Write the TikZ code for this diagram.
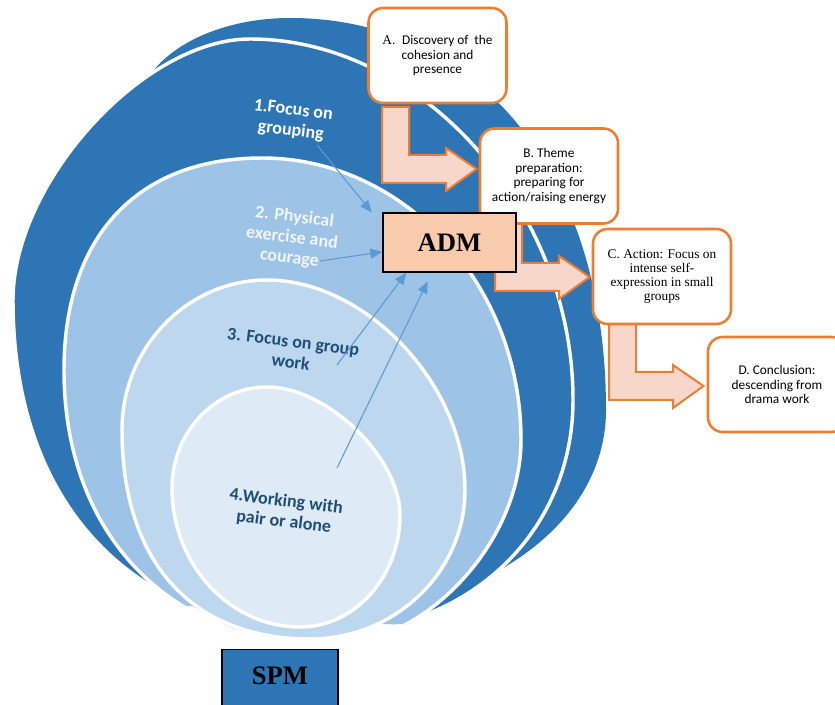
\documentclass[tikz,border=0pt]{standalone}
\usepackage{fontspec}
\setmainfont{Carlito}
\newfontfamily\timesfont{Liberation Serif}
\usetikzlibrary{arrows.meta}
\definecolor{ringdark}{HTML}{2E75B6}
\definecolor{ringmid}{HTML}{9DC3E6}
\definecolor{ringlight}{HTML}{BDD7EE}
\definecolor{ringpale}{HTML}{DEEBF7}
\definecolor{labelpale}{HTML}{F0F5FB}
\definecolor{navy}{HTML}{1F4E79}
\definecolor{boxorange}{HTML}{ED7D31}
\definecolor{peach}{HTML}{F8D7CB}
\definecolor{admfill}{HTML}{F8CBAD}
\definecolor{linkblue}{HTML}{5B9BD5}

\begin{document}
\begin{tikzpicture}[
    x=0.75pt, y=-0.75pt,
    ring/.style={draw=white, line width=2.6pt},
    ringlabel/.style={
        align=center,
        rotate=-7,
        inner sep=1pt,
        font=\bfseries\fontsize{13.5}{15.5}\selectfont,
    },
    stagebox/.style={
        draw=boxorange,
        line width=1.9pt,
        rounded corners=11pt,
        fill=white,
        minimum width=103.5pt,
        minimum height=71.25pt,
        inner sep=2pt,
        align=center,
        font=\fontsize{10}{11}\selectfont,
    },
    titlebox/.style={
        draw=black,
        line width=0.9pt,
        font=\timesfont\bfseries\fontsize{20}{24}\selectfont,
    },
    bentarrow/.style={draw=boxorange, line width=1.5pt, fill=peach},
    link/.style={
        draw=linkblue,
        line width=0.8pt,
        -{Triangle[length=9pt, width=7.5pt]},
    },
    pics/bend/.style={code={
        \path [bentarrow]
            (0, 0) -- (27, 0) -- (27, #1) -- (64, #1) -- (64, #1-7)
            -- (94.5, #1+14) -- (64, #1+36) -- (64, #1+28)
            -- (0, #1+28) -- cycle;
    }},
]
\useasboundingbox (0, 0) rectangle (835, 705);
\clip (0, 0) rectangle (835, 705);

% nested rings, back to front
\path [fill=ringdark]
    (150, 75) .. controls (175, 40) and (230, 18) .. (290, 18)
    .. controls (479.6, 18) and (606, 175) .. (606, 410)
    .. controls (606, 480) and (560, 545) .. (470, 585)
    -- (400, 450) -- (250, 200) -- cycle;
\begin{scope}
    \clip (0, 0) -- (835, 0) -- (835, 626) -- (412, 626) -- (370, 622)
        -- (310, 633) -- (233, 628) -- (187, 600) -- (172, 588)
        -- (160, 705) -- (0, 705) -- cycle;
    \path [ring, fill=ringdark]
        (13, 300) .. controls (13, 182.6) and (143.4, 39) .. (250, 39)
        .. controls (421.2, 39) and (573, 208.7) .. (573, 400)
        .. controls (573, 532.2) and (468.5, 632) .. (330, 632)
        .. controls (133.5, 632) and (13, 505.8) .. cycle;
\end{scope}
\begin{scope}
    \clip (0, 0) -- (835, 0) -- (835, 624) -- (375, 624) -- (310, 635)
        -- (235, 630) -- (192, 606) -- (0, 606) -- cycle;
    \path [ring, fill=ringmid]
        (64, 370) .. controls (64, 236.4) and (137.3, 158) .. (262, 158)
        .. controls (404.5, 158) and (521, 284.9) .. (521, 440)
        .. controls (521, 542.5) and (425.5, 645) .. (330, 645)
        .. controls (170.4, 645) and (64, 535) .. cycle;
\end{scope}
\path [ring, fill=ringlight]
    (122, 430) .. controls (122, 347.5) and (187.25, 280) .. (267, 280)
    .. controls (366, 280) and (465, 385) .. (465, 490)
    .. controls (465, 572) and (395.25, 639) .. (310, 639)
    .. controls (191.6, 639) and (122, 561.7) .. cycle;
\path [ring, fill=ringpale]
    (172, 488) .. controls (172, 432.4) and (214.75, 387) .. (267, 387)
    .. controls (326.85, 387) and (400, 457.4) .. (400, 515)
    .. controls (400, 576.6) and (355, 627) .. (300, 627)
    .. controls (229.6, 627) and (172, 564.45) .. cycle;

\node [ringlabel, text=white] (grouping) at (292, 121) {1.Focus on\\grouping};
\node [ringlabel, text=labelpale] (physical) at (292, 238) {2. Physical\\exercise and\\courage};
\node [ringlabel, text=navy] (groupwork) at (292, 352) {3. Focus on group\\work};
\node [ringlabel, text=navy] (pairwork) at (285, 512) {4.Working with\\pair or alone};

% stages
\pic at (382, 107) {bend=48};
\pic at (495, 224) {bend=39};
\pic at (609, 323) {bend=49};

\node [stagebox] (stageA) at (437.5, 55.5)
    {{\timesfont A.}\enspace Discovery of\ \ the\\cohesion and\\presence};
\node [stagebox] (stageB) at (549, 176)
    {B. Theme\\preparation:\\preparing for\\action/raising energy};
\node [stagebox, font=\timesfont\fontsize{10}{10.5}\selectfont] (stageC) at (662, 276.5)
    {C. Action: Focus on\\intense self-\\expression in small\\groups};
\node [stagebox] (stageD) at (777, 384.5)
    {D. Conclusion:\\descending from\\drama work};

\node [titlebox, fill=admfill, minimum width=99.75pt, minimum height=44.25pt]
    (adm) at (449.5, 242.5) {ADM};
\node [titlebox, fill=ringdark, anchor=north, minimum width=87pt, inner sep=0pt,
    text height=26pt, text depth=25pt] (spm) at (280, 649) {SPM};

% links into ADM
\coordinate (grouping-end) at (317, 145);
\coordinate (physical-end) at (320, 261);
\coordinate (groupwork-end) at (337, 365);
\coordinate (pairwork-end) at (337, 468);
\draw [link] (grouping-end) -- ([xshift=-8pt]adm.north west);
\draw [link] (physical-end) -- ([yshift=-7pt]adm.west);
\draw [link] (groupwork-end) -- ([xshift=18pt]adm.south west);
\draw [link] (pairwork-end) -- ([xshift=34pt, yshift=-6.5pt]adm.south west);
\end{tikzpicture}
\end{document}
